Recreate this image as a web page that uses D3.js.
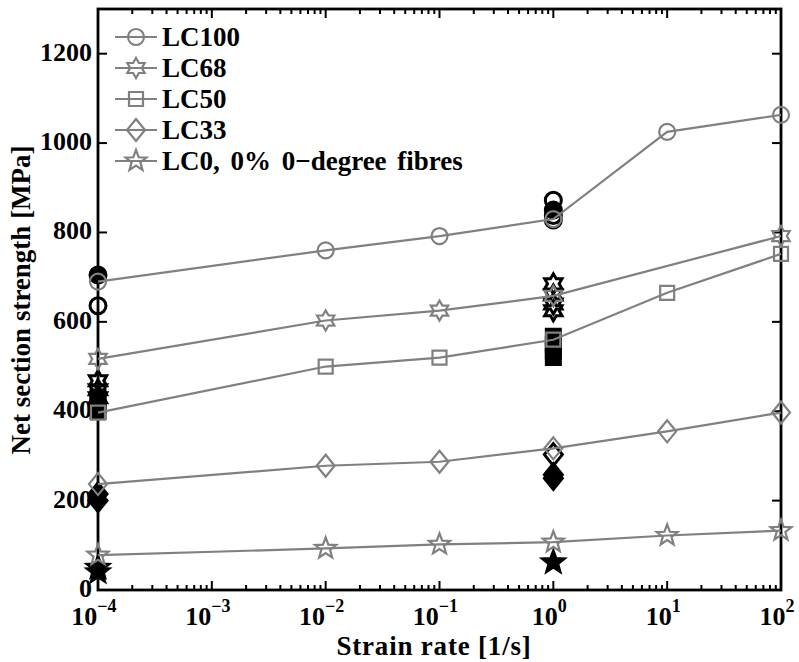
<!DOCTYPE html>
<html><head><meta charset="utf-8">
<script src="https://cdn.jsdelivr.net/npm/d3@7/dist/d3.min.js"></script>
<style>body{margin:0;background:#fff}svg{display:block}text{font-family:"Liberation Serif","Times New Roman",serif;font-weight:bold}</style>
</head><body><svg id="c" width="799" height="662"></svg>
<script>
// ---- data ----
const seriesNames = ["LC100","LC68","LC50","LC33","LC0, 0% 0\u2212degree fibres"];
const seriesSymbols = ["circle","hexagram","square","diamond","pentagram"];
const rateLC100 = [1e-4,1e-2,1e-1,1e0,1e1,1e2];
const valLC100  = [690,760,792,830,1025,1063];
const rateLC68  = [1e-4,1e-2,1e-1,1e0,1e2];
const valLC68   = [517,603,625,658,792];
const rateLC50  = [1e-4,1e-2,1e-1,1e0,1e1,1e2];
const valLC50   = [397,500,520,560,665,752];
const rateLC33  = [1e-4,1e-2,1e-1,1e0,1e1,1e2];
const valLC33   = [237,278,287,317,355,397];
const rateLC0   = [1e-4,1e-2,1e-1,1e0,1e1,1e2];
const valLC0    = [78,93,102,107,122,133];
// individual test results (black); open and filled-looking markers
const testCircleRate = [1e-4,1e0,1e0,1e0];
const testCircleVal  = [636,872,838,828];
const testCircleFillRate = [1e-4,1e0];
const testCircleFillVal  = [705,850];
const testHexRate = [1e-4,1e-4,1e-4,1e0,1e0,1e0,1e0];
const testHexVal  = [468,448,430,685,660,640,625];
const testSquareRate = [1e-4,1e-4,1e-4,1e0,1e0,1e0,1e0];
const testSquareVal  = [432,415,400,568,550,535,520];
const testDiamondRate = [1e0];
const testDiamondVal  = [303];
const testDiamondFillRate = [1e-4,1e-4,1e0,1e0];
const testDiamondFillVal  = [215,200,258,250];
const testPentRate = [1e-4,1e-4,1e0];
const testPentVal  = [50,40,62];
const xTickExp = [-4,-3,-2,-1,0,1,2];
const yTicks = [0,200,400,600,800,1000,1200];
const xLabel = "Strain rate [1/s]";
const yLabel = "Net section strength [MPa]";

// ---- layout ----
const svg = d3.select("#c");
const L=98,R=781,T=9,B=590;
const x = d3.scaleLog().domain([1e-4,1e2]).range([L,R]);
const y = d3.scaleLinear().domain([0,1300]).range([B,T]);
const gray="#808080";

function starPath(n, ro, ri){
  const pts=[];
  for(let i=0;i<2*n;i++){
    const a=-Math.PI/2 + i*Math.PI/n;
    const r = i%2===0?ro:ri;
    pts.push([r*Math.cos(a), r*Math.sin(a)]);
  }
  return "M"+pts.map(p=>p[0].toFixed(2)+","+p[1].toFixed(2)).join("L")+"Z";
}
function symPath(s){
  switch(s){
    case "circle": return d3.symbol(d3.symbolCircle, Math.PI*8*8)();
    case "square": return "M-7,-7L7,-7L7,7L-7,7Z";
    case "diamond": return "M0,-11L9,0L0,11L-9,0Z";
    case "hexagram": return starPath(6,10,5.8);
    case "pentagram": return starPath(5,11,4.6);
  }
}

// black test points (drawn first)
const tests = [
  [testCircleRate,testCircleVal,"circle",false],
  [testCircleFillRate,testCircleFillVal,"circle",true],
  [testHexRate,testHexVal,"hexagram",false],
  [testSquareRate,testSquareVal,"square",true],
  [testDiamondRate,testDiamondVal,"diamond",false],
  [testDiamondFillRate,testDiamondFillVal,"diamond",true],
  [testPentRate,testPentVal,"pentagram",true]
];
const gT = svg.append("g");
tests.forEach(([rs,vs,s,filled])=>{
  gT.selectAll(null).data(rs.map((r,i)=>[r,vs[i]])).enter().append("path")
    .attr("d",symPath(s)).attr("transform",d=>`translate(${x(d[0])},${y(d[1])})`)
    .attr("fill",filled?"#000":"none").attr("stroke","#000").attr("stroke-width",3);
});

// axes box & ticks
const ax = svg.append("g");
const minor=[];
for(let e=-4;e<2;e++) for(let m=2;m<=9;m++) minor.push(m*Math.pow(10,e));
const majors = xTickExp.map(e=>Math.pow(10,e));
ax.selectAll(null).data(minor).enter().append("line")
  .attr("x1",d=>x(d)).attr("x2",d=>x(d)).attr("y1",B).attr("y2",B-5).attr("stroke","#000").attr("stroke-width",2);
ax.selectAll(null).data(minor).enter().append("line")
  .attr("x1",d=>x(d)).attr("x2",d=>x(d)).attr("y1",T).attr("y2",T+5).attr("stroke","#000").attr("stroke-width",2);
ax.selectAll(null).data(majors).enter().append("line")
  .attr("x1",d=>x(d)).attr("x2",d=>x(d)).attr("y1",B).attr("y2",B-9).attr("stroke","#000").attr("stroke-width",2);
ax.selectAll(null).data(majors).enter().append("line")
  .attr("x1",d=>x(d)).attr("x2",d=>x(d)).attr("y1",T).attr("y2",T+9).attr("stroke","#000").attr("stroke-width",2);
ax.selectAll(null).data(yTicks).enter().append("line")
  .attr("x1",L).attr("x2",L+9).attr("y1",d=>y(d)).attr("y2",d=>y(d)).attr("stroke","#000").attr("stroke-width",2);
ax.selectAll(null).data(yTicks).enter().append("line")
  .attr("x1",R).attr("x2",R-9).attr("y1",d=>y(d)).attr("y2",d=>y(d)).attr("stroke","#000").attr("stroke-width",2);
ax.append("rect").attr("x",L).attr("y",T).attr("width",R-L).attr("height",B-T)
  .attr("fill","none").attr("stroke","#000").attr("stroke-width",2.8);

// tick labels
ax.selectAll(null).data(yTicks).enter().append("text")
  .attr("x",L-6).attr("y",d=>y(d)+7).attr("text-anchor","end").attr("font-size",26).text(d=>d);
xTickExp.forEach(e=>{
  const t=ax.append("text").attr("x",x(Math.pow(10,e))-4).attr("y",625).attr("text-anchor","middle").attr("font-size",26);
  t.append("tspan").text("10");
  t.append("tspan").attr("dy",-13).attr("font-size",18).text(e<0?"\u2212"+(-e):String(e));
});
svg.append("text").attr("x",434).attr("y",655).attr("text-anchor","middle").attr("font-size",27).attr("letter-spacing",0.8).text(xLabel);
svg.append("text").attr("transform","translate(30,300) rotate(-90)").attr("text-anchor","middle").attr("font-size",27).text(yLabel);

// series
const series = [[rateLC100,valLC100],[rateLC68,valLC68],[rateLC50,valLC50],[rateLC33,valLC33],[rateLC0,valLC0]];
const line = d3.line().x(d=>x(d[0])).y(d=>y(d[1]));
const gS = svg.append("g");
series.forEach(([rs,vs],k)=>{
  const pts = rs.map((r,i)=>[r,vs[i]]);
  gS.append("path").attr("d",line(pts)).attr("fill","none").attr("stroke",gray).attr("stroke-width",2.2);
  gS.selectAll(null).data(pts).enter().append("path").attr("d",symPath(seriesSymbols[k]))
    .attr("transform",d=>`translate(${x(d[0])},${y(d[1])})`)
    .attr("fill","none").attr("stroke",gray).attr("stroke-width",2.2);
});

// legend
const gL = svg.append("g");
seriesNames.forEach((n,i)=>{
  const yy = 37 + i*31;
  gL.append("line").attr("x1",115).attr("x2",157).attr("y1",yy).attr("y2",yy).attr("stroke",gray).attr("stroke-width",2.2);
  gL.append("path").attr("d",symPath(seriesSymbols[i])).attr("transform",`translate(136,${yy})`)
    .attr("fill","none").attr("stroke",gray).attr("stroke-width",2.2);
  gL.append("text").attr("x",162).attr("y",yy+9).attr("font-size",27).attr("word-spacing",4).text(n);
});
</script></body></html>
